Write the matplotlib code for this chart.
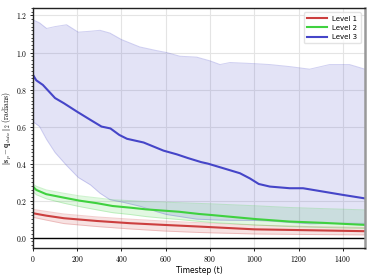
import numpy as np
import matplotlib.pyplot as plt
from matplotlib.ticker import MultipleLocator

# level 1 (red)
t1 = [0, 60, 140, 290, 440, 590, 750, 1000, 1250, 1500]
mean1 = [0.132, 0.119, 0.105, 0.090, 0.078, 0.069, 0.060, 0.045, 0.040, 0.035]
low1 = [0.110, 0.095, 0.076, 0.060, 0.047, 0.036, 0.028, 0.020, 0.017, 0.015]
high1 = [0.153, 0.142, 0.128, 0.112, 0.100, 0.090, 0.081, 0.068, 0.060, 0.055]

# level 2 (green)
t2 = [0, 15, 60, 140, 210, 290, 360, 440, 510, 590, 660, 750, 800, 1010, 1160, 1310, 1500]
mean2 = [0.276, 0.258, 0.235, 0.216, 0.200, 0.186, 0.171, 0.162, 0.153, 0.146, 0.140, 0.128,
         0.123, 0.100, 0.087, 0.080, 0.069]
low2 = [0.250, 0.232, 0.210, 0.186, 0.168, 0.150, 0.135, 0.125, 0.114, 0.105, 0.098, 0.088,
        0.083, 0.068, 0.060, 0.055, 0.050]
high2 = [0.290, 0.278, 0.258, 0.240, 0.226, 0.215, 0.205, 0.200, 0.195, 0.192, 0.189, 0.185,
         0.183, 0.172, 0.163, 0.157, 0.150]

# level 3 (blue)
t3 = [0, 15, 45, 100, 140, 200, 260, 310, 350, 390, 425, 500, 590, 650, 700, 760, 790,
      860, 935, 980, 1020, 1070, 1160, 1220, 1310, 1400, 1500]
mean3 = [0.880, 0.850, 0.825, 0.754, 0.726, 0.680, 0.636, 0.600, 0.590, 0.555, 0.534, 0.514,
         0.470, 0.450, 0.430, 0.408, 0.400, 0.375, 0.348, 0.320, 0.290, 0.276, 0.267, 0.267,
         0.249, 0.231, 0.212]
tb = [0, 30, 62, 100, 152, 205, 260, 303, 348, 400, 483, 560, 604, 664, 740, 800, 845,
      890, 1000, 1070, 1160, 1250, 1340, 1430, 1500]
low3 = [0.627, 0.600, 0.530, 0.460, 0.390, 0.325, 0.285, 0.240, 0.205, 0.193, 0.170, 0.140,
        0.125, 0.114, 0.100, 0.097, 0.095, 0.094, 0.093, 0.090, 0.082, 0.075, 0.076, 0.078,
        0.077]
high3 = [1.177, 1.160, 1.130, 1.140, 1.150, 1.110, 1.115, 1.120, 1.105, 1.070, 1.030, 1.010,
         1.000, 0.980, 0.975, 0.955, 0.935, 0.946, 0.940, 0.935, 0.924, 0.910, 0.935, 0.935,
         0.910]

plt.rcParams['mathtext.fontset'] = 'cm'

fig = plt.figure(figsize=(3.74, 2.79), dpi=100)
ax = fig.add_axes([0.088, 0.111, 0.888, 0.86])

red, green, blue = '#cc3f3f', '#3fd13f', '#4545c8'

for t, lo, hi, c in [(t1, low1, high1, red), (t2, low2, high2, green), (tb, low3, high3, blue)]:
    ax.fill_between(t, lo, hi, color=c, alpha=0.15, lw=0)
    ax.plot(t, lo, color=c, alpha=0.25, lw=0.7)
    ax.plot(t, hi, color=c, alpha=0.25, lw=0.7)

ax.plot(t1, mean1, color=red, lw=1.5, label='Level 1')
ax.plot(t2, mean2, color=green, lw=1.5, label='Level 2')
ax.plot(t3, mean3, color=blue, lw=1.5, label='Level 3')

ax.axhline(0, color='black', lw=1)
ax.set_xlim(0, 1500)
ax.set_ylim(-0.056, 1.24)
ax.yaxis.set_major_locator(MultipleLocator(0.2))
ax.yaxis.set_minor_locator(MultipleLocator(0.02))
ax.grid(True, color='#e4e4e4', lw=0.8)
ax.set_axisbelow(True)

ax.tick_params(labelsize=5.5, length=2, width=0.6, pad=2)
ax.tick_params(which='minor', length=1.5, width=0.5)
ax.xaxis.set_major_formatter(plt.FuncFormatter(lambda v, p: f'${v:.0f}$'))
ax.yaxis.set_major_formatter(plt.FuncFormatter(lambda v, p: f'${v:.1f}$'))

for s in ['left', 'bottom', 'top']:
    ax.spines[s].set_color('#222222')
    ax.spines[s].set_linewidth(1.0)
ax.spines['right'].set_color('#999999')
ax.spines['right'].set_linewidth(1.8)

ax.set_xlabel('Timestep (t)', fontsize=5.5, labelpad=2)
ax.set_ylabel(r'$\|\mathbf{s}_p - \mathbf{q}_{data}\|_2\ \mathrm{(radians)}$', fontsize=5.5,
              labelpad=2)

ax.legend(loc='upper right', fontsize=5, handlelength=2.8, frameon=True,
          edgecolor='#dddddd', fancybox=True, borderpad=0.5, labelspacing=0.45,
          borderaxespad=0.6)

fig.savefig('out.png', dpi=100)
